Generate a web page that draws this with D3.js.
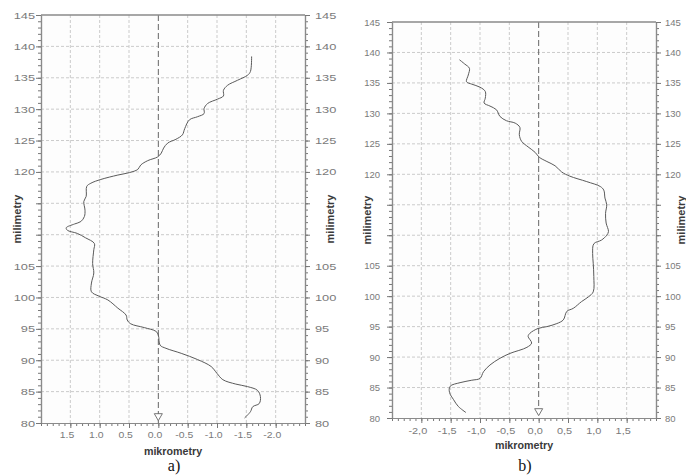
<!DOCTYPE html>
<html>
<head>
<meta charset="utf-8">
<script src="https://cdn.jsdelivr.net/npm/d3@7"></script>
<style>
  body { margin: 0; background: #fff; }
  svg { display: block; }
</style>
</head>
<body>
<div id="chart"></div>
<script>
// profile a) - milimetry (y) and mikrometry (x)
const aMm = [138.4, 136.0, 135.4, 134.6, 133.8, 133.0, 132.1, 131.6, 130.9, 130.1, 129.3, 128.8, 128.3,
  126.9, 125.9, 125.2, 124.6, 123.8, 123.0, 122.4, 121.8, 121.1, 120.4, 119.9, 119.5, 118.8, 118.2,
  117.7, 116.1, 115.3, 113.9, 112.9, 112.1, 111.7, 111.1, 110.7, 110.2, 109.5, 108.6, 107.6, 105.4,
  103.9, 102.3, 100.9, 100.2, 99.6, 98.3, 97.2, 96.4, 95.8, 95.2, 94.6, 94.0, 92.4, 91.9, 91.1, 90.1,
  89.0, 87.9, 86.9, 86.2, 85.8, 85.2, 84.2, 83.1, 82.6, 81.8, 80.8];
const aUm = [-1.59, -1.57, -1.52, -1.35, -1.18, -1.11, -1.11, -1.01, -0.84, -0.78, -0.78, -0.67, -0.53,
  -0.45, -0.41, -0.30, -0.16, -0.09, -0.05, 0.01, 0.18, 0.30, 0.35, 0.49, 0.69, 0.98, 1.15,
  1.22, 1.23, 1.27, 1.25, 1.26, 1.32, 1.43, 1.57, 1.55, 1.38, 1.24, 1.09, 1.10, 1.12,
  1.10, 1.14, 1.14, 1.01, 0.86, 0.69, 0.55, 0.53, 0.47, 0.24, 0.04, 0.0, -0.03, -0.13, -0.39, -0.67,
  -0.90, -1.00, -1.10, -1.32, -1.52, -1.69, -1.74, -1.72, -1.61, -1.57, -1.47];

// profile b)
const bMm = [138.8, 138.1, 137.4, 136.3, 135.2, 134.8, 134.3, 133.6, 132.5, 131.7, 131.2, 130.6, 129.5,
  128.8, 128.4, 127.7, 126.5, 125.4, 124.5, 123.6, 122.8, 122.1, 121.4, 120.4, 119.7, 118.8, 118.0,
  117.4, 116.1, 115.0, 113.6, 112.0, 110.6, 110.0, 109.2, 108.6, 107.0, 105.4, 103.2, 100.7, 99.9,
  99.1, 98.0, 97.5, 96.1, 95.5, 95.0, 94.7, 93.9, 93.4, 92.3, 91.6, 90.6, 89.8, 88.7, 87.6, 86.5,
  86.2, 85.8, 85.2, 84.2, 83.0, 81.9, 80.9];
const bUm = [-1.35, -1.26, -1.18, -1.20, -1.23, -1.14, -1.00, -0.91, -0.91, -0.93, -0.83, -0.72, -0.66,
  -0.55, -0.40, -0.32, -0.33, -0.29, -0.18, -0.06, 0.01, 0.14, 0.28, 0.39, 0.53, 0.82, 1.05,
  1.11, 1.13, 1.16, 1.14, 1.15, 1.19, 1.16, 1.07, 0.94, 0.92, 0.93, 0.94, 0.93, 0.85,
  0.73, 0.59, 0.48, 0.42, 0.31, 0.14, -0.01, -0.15, -0.18, -0.12, -0.20, -0.49, -0.66, -0.83, -0.94, -1.00,
  -1.14, -1.34, -1.51, -1.52, -1.45, -1.37, -1.24];

// axes
const yTicks = [80, 85, 90, 95, 100, 105, 110, 115, 120, 125, 130, 135, 140, 145];
const yHiddenLabels = [110, 115]; // covered by the "milimetry" title in the original
const xTicks = [-2.0, -1.5, -1.0, -0.5, 0.0, 0.5, 1.0, 1.5];
const xGrid = [-2.0, -1.5, -1.0, -0.5, 0.5, 1.0, 1.5];
const yTitle = "milimetry";
const xTitle = "mikrometry";

const W = 686, H = 476;
const svg = d3.select("#chart").append("svg").attr("width", W).attr("height", H);

const panels = [
  { letter: "a)", mm: aMm, um: aUm, sep: ".", xDomain: [2.0, -2.5],
    left: 41, right: 305, top: 15, bottom: 423,
    padL: 1, padR: 5, padX: 3, yScaleL: 1.35, yScaleR: 1.35, xScale: 1.1,
    titleL: 21, titleR: 334, titleX: 455, letterY: 471 },
  { letter: "b)", mm: bMm, um: bUm, sep: ",", xDomain: [-2.5, 2.0],
    left: 392, right: 656, top: 22, bottom: 418,
    padL: 7, padR: 4, padX: 4, yScaleL: 1.0, yScaleR: 1.0, xScale: 1.15,
    titleL: 371, titleR: 685, titleX: 449, letterY: 471 }
];

function stretch(sel, s) {
  // the scanned labels are wider than any installed font, so stretch them
  sel.selectAll(".tick text").each(function() {
    const t = d3.select(this);
    const x = +t.attr("x") || 0;
    t.attr("x", 0).attr("transform", `translate(${x},0) scale(${s},1)`);
  });
}

function styleAxis(g) {
  g.select(".domain").attr("stroke", "#8a8a8a").attr("stroke-width", 1.2);
  g.selectAll(".tick line").attr("stroke", "#777");
  g.selectAll(".tick text").attr("fill", "#7a7a7a")
    .style("font-family", "'Liberation Sans', Arial, sans-serif").style("font-size", "9.5px");
}

panels.forEach(p => {
  const x = d3.scaleLinear().domain(p.xDomain).range([p.left, p.right]);
  const y = d3.scaleLinear().domain([80, 145]).range([p.bottom, p.top]);
  const g = svg.append("g");

  // plot background
  g.append("rect")
    .attr("x", p.left).attr("y", p.top)
    .attr("width", p.right - p.left).attr("height", p.bottom - p.top)
    .attr("fill", "#fdfdfd");

  // grid
  g.append("g").selectAll("line").data(yTicks.filter(v => v > 80 && v < 145)).join("line")
    .attr("x1", p.left).attr("x2", p.right)
    .attr("y1", d => y(d)).attr("y2", d => y(d))
    .attr("stroke", "#cbcbcb").attr("stroke-dasharray", "3,2");
  g.append("g").selectAll("line").data(xGrid).join("line")
    .attr("x1", d => x(d)).attr("x2", d => x(d))
    .attr("y1", p.top).attr("y2", p.bottom)
    .attr("stroke", "#cbcbcb").attr("stroke-dasharray", "3,2");

  // zero line with marker
  g.append("line")
    .attr("x1", x(0)).attr("x2", x(0)).attr("y1", p.top).attr("y2", p.bottom)
    .attr("stroke", "#666").attr("stroke-width", 1).attr("stroke-dasharray", "6,3");
  g.append("path")
    .attr("d", d3.symbol(d3.symbolTriangle, 28)())
    .attr("transform", `translate(${x(0)},${p.bottom - 7}) rotate(180)`)
    .attr("fill", "#fff").attr("stroke", "#666").attr("stroke-width", 0.9);

  // frame top
  g.append("line")
    .attr("x1", p.left).attr("x2", p.right).attr("y1", p.top).attr("y2", p.top)
    .attr("stroke", "#8a8a8a").attr("stroke-width", 1.5);

  const yFmt = d => yHiddenLabels.includes(d) ? "" : d;
  const xFmt = d => (d < 0 ? "-" : "") + Math.abs(d).toFixed(1).replace(".", p.sep);
  const yMinor = d3.range(80, 146, 1);
  const xMinor = d3.range(-25, 21, 1).map(v => v / 10);

  // left axis
  g.append("g").attr("transform", `translate(${p.left},0)`)
    .call(d3.axisLeft(y).tickValues(yMinor).tickSize(3).tickSizeOuter(0).tickFormat(""))
    .call(styleAxis);
  const gl = g.append("g").attr("transform", `translate(${p.left},0)`)
    .call(d3.axisLeft(y).tickValues(yTicks).tickSize(5).tickSizeOuter(0).tickPadding(p.padL).tickFormat(yFmt))
    .call(styleAxis);
  stretch(gl, p.yScaleL);

  // right axis
  g.append("g").attr("transform", `translate(${p.right},0)`)
    .call(d3.axisRight(y).tickValues(yMinor).tickSize(3).tickSizeOuter(0).tickFormat(""))
    .call(styleAxis);
  const gr = g.append("g").attr("transform", `translate(${p.right},0)`)
    .call(d3.axisRight(y).tickValues(yTicks).tickSize(5).tickSizeOuter(0).tickPadding(p.padR).tickFormat(yFmt))
    .call(styleAxis);
  stretch(gr, p.yScaleR);

  // bottom axis
  g.append("g").attr("transform", `translate(0,${p.bottom})`)
    .call(d3.axisBottom(x).tickValues(xMinor).tickSize(3).tickSizeOuter(0).tickFormat(""))
    .call(styleAxis);
  const gb = g.append("g").attr("transform", `translate(0,${p.bottom})`)
    .call(d3.axisBottom(x).tickValues(xTicks).tickSize(5).tickSizeOuter(0).tickPadding(p.padX).tickFormat(xFmt))
    .call(styleAxis);
  gb.selectAll(".tick text").attr("dx", -3.5);
  stretch(gb, p.xScale);

  // profile curve
  const pts = p.mm.map((m, i) => [p.um[i], m]);
  g.append("path")
    .datum(pts)
    .attr("fill", "none").attr("stroke", "#5a5a5a").attr("stroke-width", 1)
    .attr("d", d3.line().x(d => x(d[0])).y(d => y(d[1])).curve(d3.curveCatmullRom.alpha(0.5)));

  // titles
  const ym = (p.top + p.bottom) / 2;
  [p.titleL, p.titleR].forEach(tx => {
    g.append("text")
      .attr("transform", `translate(${tx},${ym}) rotate(-90)`)
      .attr("text-anchor", "middle")
      .style("font-family", "'Liberation Sans', Arial, sans-serif")
      .style("font-size", "11px").style("font-weight", "bold")
      .attr("fill", "#3a3a3a")
      .text(yTitle);
  });
  g.append("text")
    .attr("x", (p.left + p.right) / 2).attr("y", p.titleX)
    .attr("text-anchor", "middle")
    .style("font-family", "'Liberation Sans', Arial, sans-serif")
    .style("font-size", "10.7px").style("font-weight", "bold")
    .attr("fill", "#3a3a3a")
    .text(xTitle);
  g.append("text")
    .attr("x", (p.left + p.right) / 2 + 1).attr("y", p.letterY)
    .attr("text-anchor", "middle")
    .style("font-family", "'Liberation Serif', 'Times New Roman', serif")
    .style("font-size", "16px")
    .attr("fill", "#111")
    .text(p.letter);
});
</script>
</body>
</html>
